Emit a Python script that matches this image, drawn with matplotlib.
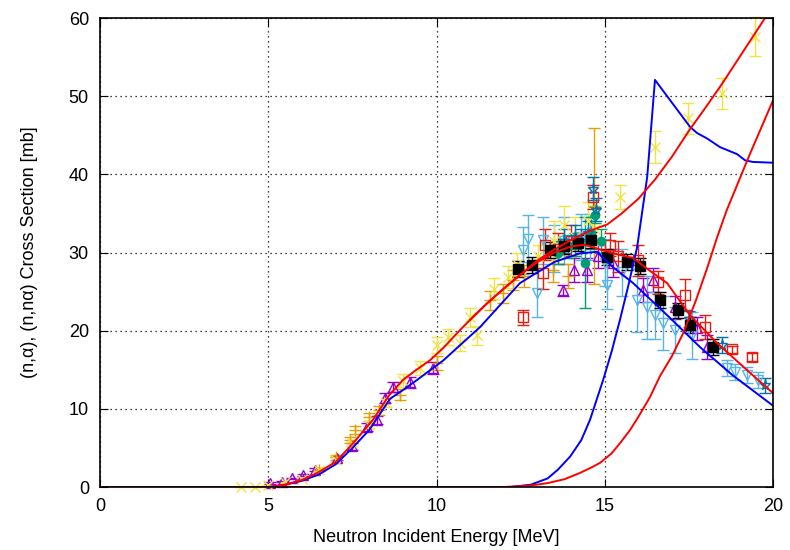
import numpy as np
import matplotlib
matplotlib.use("Agg")
import matplotlib.pyplot as plt

plt.rcParams['font.family'] = ['Liberation Sans', 'DejaVu Sans']

# evaluated curves
red_na_x = [0, 5.0, 5.5, 6.0, 6.45, 7.0, 7.52, 8.11, 8.6, 9.0, 9.4, 9.8, 10.2, 10.7, 11.0, 11.5,
            12.0, 12.5, 13.0, 13.5, 14.0, 14.4, 14.86, 15.25, 15.84, 16.3, 16.85, 17.53, 18.34, 19.32, 20]
red_na_y = [0, 0, 0.3, 0.9, 1.8, 3.2, 5.6, 8.6, 11.8, 13.7, 15.0, 16.2, 17.8, 20.1, 21.4, 23.5,
            25.4, 27.2, 28.8, 30.0, 30.8, 31.0, 30.4, 29.9, 29.3, 27.8, 26.1, 22.0, 18.4, 14.6, 12.0]

red_tot_x = [11.0, 11.5, 12.0, 12.5, 13.0, 13.5, 14.0, 14.56, 15.07, 15.5, 16.0, 16.5, 17.0,
             17.5, 18.0, 18.5, 19.0, 19.5, 20]
red_tot_y = [21.4, 23.5, 25.4, 27.2, 29.0, 30.4, 31.6, 32.8, 33.6, 35.0, 36.9, 39.4, 42.3,
             45.6, 48.6, 51.7, 55.0, 58.3, 61.6]

red_nna_x = [0, 12.0, 12.8, 13.3, 13.8, 14.26, 14.6, 14.86, 15.2, 15.45, 15.75, 16.0, 16.34,
             16.64, 17.0, 17.33, 17.7, 18.04, 18.34, 18.63, 19.3, 20]
red_nna_y = [0, 0, 0.2, 0.5, 1.0, 1.8, 2.5, 3.1, 4.3, 5.6, 7.3, 9.0, 11.5,
             14.2, 16.8, 19.7, 23.8, 28.0, 32.0, 35.5, 42.5, 49.5]

blue_na_x = [0, 5.0, 5.5, 6.0, 6.5, 7.0, 7.5, 8.0, 8.62, 9.0, 9.42, 10.2, 11.3, 12.48, 12.78,
             13.5, 14.26, 14.77, 15.25, 15.84, 16.85, 17.83, 18.8, 20]
blue_na_y = [0, 0, 0.3, 0.8, 1.6, 2.9, 5.0, 7.3, 11.3, 12.4, 13.7, 16.2, 20.5, 26.1, 26.9,
             28.8, 29.9, 30.1, 28.1, 26.1, 22.0, 17.9, 14.3, 10.4]

blue_tot_x = [0, 12.2, 12.8, 13.3, 13.6, 13.97, 14.3, 14.56, 14.95, 15.2, 15.45, 15.7, 15.96,
              16.26, 16.49, 16.94, 17.53, 17.74, 18.04, 18.42, 18.93, 19.17, 19.4, 20]
blue_tot_y = [0, 0, 0.3, 1.1, 2.2, 3.9, 6.0, 8.6, 13.7, 17.3, 21.4, 25.8, 30.7,
              39.7, 52.1, 49.5, 46.1, 45.3, 44.6, 43.5, 42.6, 41.8, 41.6, 41.5]

# experimental data
yel_x = [4.2, 4.6, 5.0, 5.5, 6.0, 6.5, 7.0, 7.5, 8.0, 8.5, 9.0, 9.5, 10.0, 10.35, 10.7, 11.0,
         11.2, 11.7, 12.13, 12.4, 13.0, 13.5, 13.8, 14.1, 14.5, 14.7, 15.45, 16.49, 17.47, 18.48, 19.46]
yel_y = [0, 0, 0.2, 0.6, 1.0, 2.2, 3.5, 5.6, 8.0, 10.8, 13.6, 15.2, 18.2, 19.2, 18.4, 21.7,
         19.4, 25.4, 26.9, 28.5, 29.5, 31.5, 33.5, 32.0, 34.0, 33.0, 37.1, 43.5, 47.2, 50.4, 57.6]
yel_e = [0.05, 0.05, 0.05, 0.1, 0.1, 0.2, 0.3, 0.4, 0.5, 0.6, 0.8, 0.9, 1.0, 1.0, 1.0, 1.2,
         1.2, 1.4, 1.4, 1.5, 1.5, 2.5, 2.5, 2.5, 2.5, 2.0, 1.5, 2.0, 2.0, 2.0, 2.5]

org_x = [6.5, 7.0, 7.43, 7.58, 8.0, 8.3, 8.9, 10.0, 11.6, 11.98, 12.27, 12.6, 13.46, 13.9, 14.68]
org_y = [2.2, 3.8, 6.0, 7.3, 9.0, 9.8, 11.8, 15.9, 23.9, 24.8, 26.5, 27.0, 27.8, 27.0, 36.0]
org_e = [0.2, 0.3, 0.4, 0.5, 0.5, 0.6, 0.7, 0.9, 1.2, 1.2, 1.3, 1.4, 1.5, 1.5, 10.0]

pur_x = [5.05, 5.4, 5.7, 6.03, 6.4, 7.04, 7.5, 7.93, 8.23, 8.47, 8.7, 9.2, 9.9, 13.77, 14.07,
         14.47, 14.8, 15.25, 16.14, 16.43, 17.09, 17.74, 18.04]
pur_y = [0.5, 0.7, 1.1, 1.5, 2.2, 3.7, 5.2, 7.7, 8.6, 11.4, 12.8, 13.4, 15.2, 25.2, 27.8,
         27.8, 29.5, 28.7, 25.2, 26.5, 23.0, 20.3, 17.9]
pur_e = [0.1, 0.1, 0.1, 0.15, 0.2, 0.3, 0.4, 0.5, 0.5, 0.6, 0.7, 0.7, 0.8, 0.7, 1.5,
         1.5, 1.5, 1.8, 1.5, 1.5, 1.5, 1.5, 1.5]

lbl_x = [12.57, 12.72, 12.99, 13.16, 13.5, 13.8, 14.3, 14.56, 15.0, 15.07, 15.5, 15.96, 16.26,
         16.49, 16.73, 17.09, 17.59, 18.63, 18.87, 19.23, 19.55]
lbl_y = [30.3, 31.8, 24.8, 31.6, 30.5, 31.5, 32.0, 32.0, 28.7, 25.8, 27.5, 23.9, 23.0,
         22.0, 21.0, 20.1, 19.4, 15.2, 14.7, 14.3, 13.7]
lbl_e = [3, 3, 3, 3, 3, 3, 3, 3, 3, 3, 3, 4, 4, 3, 3.5, 3, 3, 1, 1, 1, 1]

red_x = [12.57, 13.17, 13.22, 13.6, 14.0, 14.65, 15.15, 15.4, 16.0, 16.58, 17.39, 17.98, 18.78, 19.37]
red_y = [21.7, 27.4, 31.0, 30.5, 31.5, 37.1, 31.0, 29.5, 29.0, 26.2, 24.6, 20.5, 17.6, 16.6]
red_e = [1, 2, 2, 2, 2, 1.5, 1.5, 2, 2, 1.5, 2, 1.5, 0.5, 0.5]

blk_x = [12.42, 12.84, 13.37, 13.8, 14.2, 14.6, 15.07, 15.66, 16.05, 16.64, 17.18, 17.53, 18.22]
blk_y = [27.9, 28.4, 30.3, 30.8, 31.2, 31.6, 29.4, 28.8, 28.3, 23.9, 22.6, 20.7, 17.9]
blk_e = [1.0] * 13

teal_x = [13.6, 13.9, 14.1, 14.4, 14.6, 14.7, 14.9]
teal_y = [30.0, 30.8, 31.0, 28.7, 32.5, 34.8, 31.5]
teal_e = [1.5, 1.5, 1.5, 5.8, 2.0, 1.0, 1.5]

dbl_x = [13.8, 14.1, 14.3, 14.5, 14.65, 14.75, 17.5, 18.48, 19.76]
dbl_y = [31.5, 32.0, 31.5, 32.5, 38.2, 35.5, 21.5, 18.2, 13.0]
dbl_e = [1.5, 1.5, 1.5, 1.5, 1.5, 1.5, 1.0, 1.0, 1.0]

fig = plt.figure(figsize=(7.9, 5.5), dpi=100)
ax = fig.add_axes([0.1266, 0.1145, 0.852, 0.8525])

def plot_set(x, y, e, color, marker, filled=False, ms=7):
    ax.errorbar(x, y, yerr=e, fmt=marker, color=color, ms=ms,
                mfc=color if filled else 'none', mec=color, mew=1.0,
                elinewidth=1.0, capsize=4, capthick=1.0, zorder=3, clip_on=False)

plot_set(pur_x, pur_y, pur_e, '#9400d3', '^')
plot_set(lbl_x, lbl_y, lbl_e, '#56b4e9', 'v')
plot_set(org_x, org_y, org_e, '#e69f00', '+', ms=8)
plot_set(yel_x, yel_y, yel_e, '#f0e442', 'x', ms=7)
plot_set(red_x, red_y, red_e, '#e51e10', 's')
plot_set(teal_x, teal_y, teal_e, '#009e73', 'o', filled=True, ms=6)
plot_set(dbl_x, dbl_y, dbl_e, '#0072b2', '*', ms=8)
plot_set(blk_x, blk_y, blk_e, 'black', 's', filled=True, ms=7)

ax.plot(blue_na_x, blue_na_y, color='#0000ff', lw=1.4, zorder=4)
ax.plot(blue_tot_x, blue_tot_y, color='#0000ff', lw=1.4, zorder=4)
ax.plot(red_na_x, red_na_y, color='#ff0000', lw=1.4, zorder=5)
ax.plot(red_tot_x, red_tot_y, color='#ff0000', lw=1.4, zorder=5)
ax.plot(red_nna_x, red_nna_y, color='#ff0000', lw=1.4, zorder=5)

ax.set_xlim(0, 20)
ax.set_ylim(0, 60)
ax.set_xticks([0, 5, 10, 15, 20])
ax.set_yticks([0, 10, 20, 30, 40, 50, 60])
ax.grid(True, color='black', linestyle=(0, (1, 3)), linewidth=0.9)
ax.tick_params(direction='in', top=True, right=True, labelsize=13, length=6, pad=8)
for s in ax.spines.values():
    s.set_linewidth(1.2)
    s.set_zorder(6)

ax.set_xlabel("Neutron Incident Energy [MeV]", fontsize=13, labelpad=10)
ax.set_ylabel("(n,α), (n,nα) Cross Section [mb]", fontsize=13, labelpad=22)

fig.savefig("out.png", dpi=100)
